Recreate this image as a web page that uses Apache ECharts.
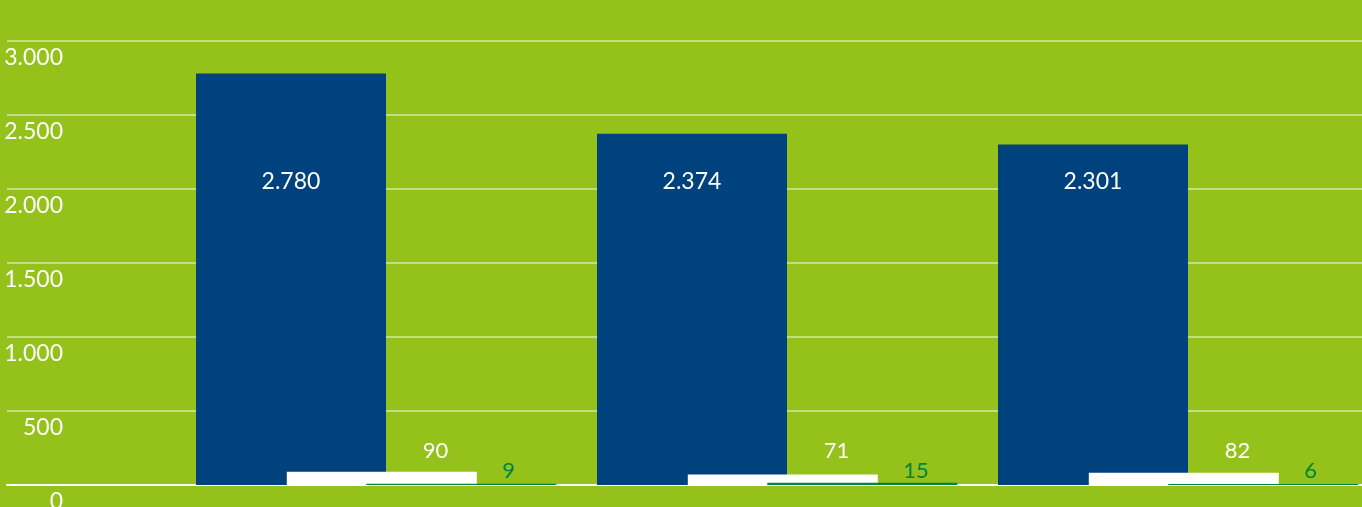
<!DOCTYPE html>
<html>
<head>
<meta charset="utf-8">
<script src="https://cdn.jsdelivr.net/npm/echarts@6/dist/echarts.min.js"></script>
<style>
html,body{margin:0;padding:0;background:#95C11B;}
#c{width:1362px;height:507px;}
</style>
</head>
<body>
<div id="c"></div>
<script>
const categories = ['A', 'B', 'C'];
const seriesBlue = [2780, 2374, 2301];
const seriesWhite = [90, 71, 82];
const seriesGreen = [9, 15, 6];
const yMin = 0, yMax = 3000, yInterval = 500;

function fmt(v) {
  return String(v).replace(/\B(?=(\d{3})+(?!\d))/g, '.');
}

const FONT = 'Lato';
const TOP = 41, BOTTOM = 22, CAT_W = 401, BAR_W = 190;
const gridBase = { top: TOP, bottom: BOTTOM, outerBoundsMode: 'none', containLabel: false };
const grids = [
  Object.assign({ left: 7, right: 0 }, gridBase),
  Object.assign({ left: 90.5, width: CAT_W * 3 }, gridBase),
  Object.assign({ left: 181.3, width: CAT_W * 3 }, gridBase),
  Object.assign({ left: 260.8, width: CAT_W * 3 }, gridBase)
];

const xAxes = grids.map((g, i) => ({
  type: 'category', gridIndex: i, data: categories,
  axisLine: { show: i === 0, lineStyle: { color: '#ffffff', width: 2 } },
  axisTick: { show: false }, axisLabel: { show: false }, splitLine: { show: false }
}));
const yAxes = grids.map((g, i) => ({
  type: 'value', gridIndex: i, min: yMin, max: yMax, interval: yInterval,
  show: i === 0,
  axisLine: { show: false }, axisTick: { show: false },
  splitLine: { show: i === 0, lineStyle: { color: 'rgba(255,255,255,0.45)', width: 2 } },
  axisLabel: {
    show: i === 0, inside: true, margin: 56, align: 'right', verticalAlign: 'top',
    padding: [5, 0, 0, 0], lineHeight: 23,
    color: '#ffffff', fontFamily: FONT, fontSize: 23,
    formatter: v => fmt(v)
  }
}));

const smallLabel = (color) => ({
  show: true, position: 'insideBottom', align: 'left', offset: [41, 0],
  color: color, fontFamily: FONT, fontSize: 22, formatter: p => fmt(p.value)
});

const option = {
  backgroundColor: '#95C11B',
  animation: false,
  grid: grids,
  xAxis: xAxes,
  yAxis: yAxes,
  series: [
    {
      type: 'bar', xAxisIndex: 1, yAxisIndex: 1, data: seriesBlue, barWidth: BAR_W,
      itemStyle: { color: '#00427E' },
      label: { show: true, position: 'insideBottom', distance: 292, color: '#ffffff',
        fontFamily: FONT, fontSize: 23, formatter: p => fmt(p.value) }
    },
    {
      type: 'bar', xAxisIndex: 2, yAxisIndex: 2, data: seriesWhite, barWidth: BAR_W,
      itemStyle: { color: '#ffffff' },
      label: Object.assign(smallLabel('#ffffff'), { distance: 23 })
    },
    {
      type: 'bar', xAxisIndex: 3, yAxisIndex: 3, data: seriesGreen, barWidth: BAR_W,
      itemStyle: { color: '#00843D' },
      label: Object.assign(smallLabel('#00843D'), { distance: 3 })
    }
  ]
};

const chart = echarts.init(document.getElementById('c'), null, { renderer: 'canvas' });
chart.setOption(option);
</script>
</body>
</html>
